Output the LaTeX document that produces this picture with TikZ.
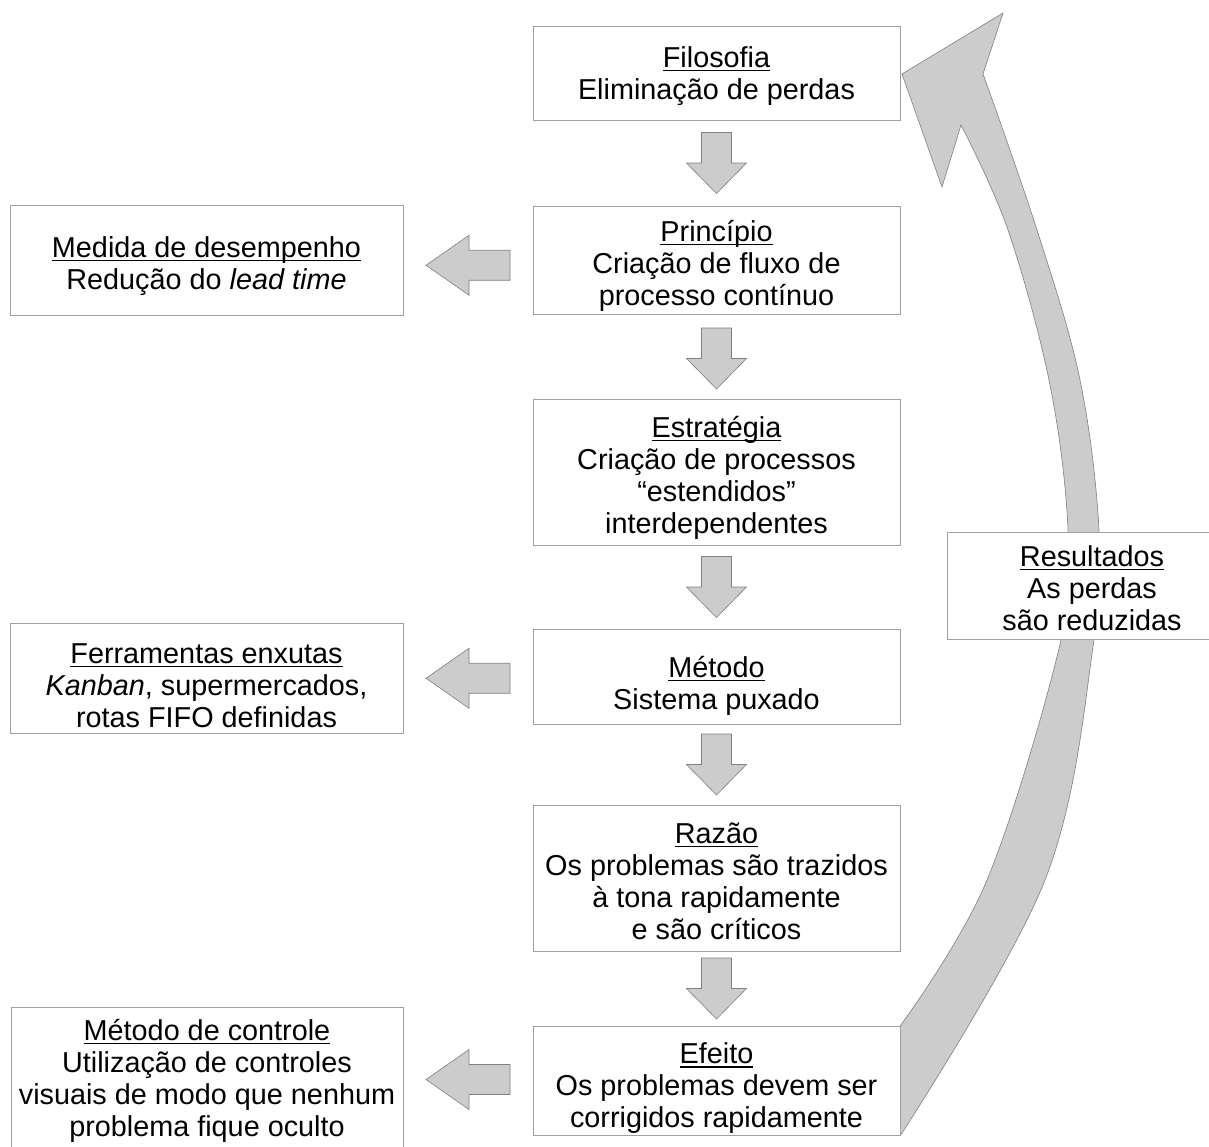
\documentclass[tikz,border=0pt]{standalone}
\usepackage{fontspec}
\setmainfont{Liberation Sans}
\usetikzlibrary{calc,backgrounds}
\newsavebox{\ulbox}
\newcommand{\myul}[1]{\sbox\ulbox{#1}\leavevmode\rlap{\rule[-3.6pt]{\wd\ulbox}{1.2pt}}\usebox\ulbox}
\definecolor{boxline}{HTML}{A0A0A0}
\definecolor{arrfill}{HTML}{CCCCCC}
\definecolor{arrline}{HTML}{808080}
\tikzset{
  box/.style={draw=boxline, fill=white, line width=0.9pt, inner sep=0pt},
  mainbox/.style={box, minimum width=367pt},
  sidebox/.style={box, minimum width=393pt},
  txt/.style={align=center, inner sep=0pt, font=\fontsize{28.8}{32}\selectfont},
  blk/.style={fill=arrfill, draw=arrline, line width=0.6pt, line join=miter},
  downarr/.pic={\draw[blk] (-15,-30.5) -- (15,-30.5) -- (15,0) -- (30,0) -- (0,30.5) -- (-30,0) -- (-15,0) -- cycle;},
  leftarr/.pic={\draw[blk] (42,-15) -- (1,-15) -- (1,-30) -- (-42,0) -- (1,30) -- (1,15) -- (42,15) -- cycle;}
}
\begin{document}
\begin{tikzpicture}[x=1pt,y=-1pt]
\useasboundingbox (0,0) rectangle (1209,1146);
\clip (0,0) rectangle (1209,1146);

% main column boxes
\node[mainbox, minimum height=94pt]  (filo) at (716.5,73)    {};
\node[mainbox, minimum height=108pt] (prin) at (716.5,260)   {};
\node[mainbox, minimum height=146pt] (estr) at (716.5,472)   {};
\node[mainbox, minimum height=95pt]  (meto) at (716.5,676.5) {};
\node[mainbox, minimum height=146pt] (raza) at (716.5,878)   {};
\node[mainbox, minimum height=109pt] (efei) at (716.5,1080.5){};
% side column boxes
\node[sidebox, minimum height=110pt] (medi) at (206.5,260.5) {};
\node[sidebox, minimum height=110pt] (ferr) at (206.5,678)   {};
\node[box, minimum width=392pt, minimum height=143pt] (ctrl) at (207,1078.5) {};
% results box
\node[box, minimum width=290pt, minimum height=107pt] (resu) at (1092,585.5) {};

% texts
\node[txt] (filo-t) at ($(filo.center)+(0,3)$) {\myul{Filosofia}\\Eliminação de perdas};
\node[txt] (prin-t) at ($(prin.center)+(0,6)$) {\myul{Princípio}\\Criação de fluxo de\\processo contínuo};
\node[txt] (estr-t) at ($(estr.center)+(0,6)$) {\myul{Estratégia}\\Criação de processos\\“estendidos”\\interdependentes};
\node[txt] (meto-t) at ($(meto.center)+(0,9)$) {\myul{Método}\\Sistema puxado};
\node[txt] (raza-t) at ($(raza.center)+(0,3)$) {\myul{Razão}\\Os problemas são trazidos\\à tona rapidamente\\e são críticos};
\node[txt] (efei-t) at ($(efei.center)+(0,8)$) {\myul{Efeito}\\Os problemas devem ser\\corrigidos rapidamente};
\node[txt] (medi-t) at ($(medi.center)+(0,6)$) {\myul{Medida de desempenho}\\Redução do \textit{lead time}};
\node[txt] (ferr-t) at ($(ferr.center)+(0,8)$) {\myul{Ferramentas enxutas}\\\textit{Kanban}, supermercados,\\rotas FIFO definidas};
\node[txt] (ctrl-t) at ($(ctrl.center)+(0,2)$) {\myul{Método de controle}\\Utilização de controles\\visuais de modo que nenhum\\problema fique oculto};
\node[txt] (resu-t) at ($(resu.center)+(0,3)$) {\myul{Resultados}\\As perdas\\são reduzidas};

% block arrows
\pic at ($(filo.south)!0.5!(prin.north)$) {downarr};
\pic at ($(prin.south)!0.5!(estr.north)+(0,2)$) {downarr};
\pic at ($(estr.south)!0.5!(meto.north)$) {downarr};
\pic at ($(meto.south)!0.5!(raza.north)$) {downarr};
\pic at ($(raza.south)!0.5!(efei.north)$) {downarr};
\pic at ($(prin.west)!0.5!(medi.east)+(0,5)$) {leftarr};
\pic at ($(meto.west)!0.5!(ferr.east)+(0,1)$) {leftarr};
\pic at ($(efei.west)!0.5!(ctrl.east)$) {leftarr};

% big curved return arrow
\begin{scope}[on background layer]
\fill[white] (0,0) rectangle (1209,1146);
\draw[blk, line join=miter]
  (1003,13) -- (983,74)
  -- plot[smooth, tension=0.6] coordinates {(983,74) (1037,230) (1080,380) (1099,530) (1094,640) (1045,880) (efei.south east)}
  -- (efei.north east)
  -- plot[smooth, tension=0.6] coordinates {(efei.north east) (987,880) (1061,640) (1068,530) (1050,385) (1008,230) (961,125)}
  -- (942,187) -- (902,74) -- cycle;
\end{scope}
\end{tikzpicture}
\end{document}
